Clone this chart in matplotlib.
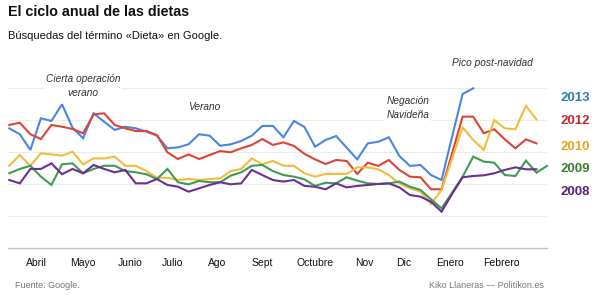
import matplotlib
matplotlib.use("Agg")
import matplotlib.pyplot as plt
import numpy as np

plt.rcParams['font.family'] = ['Liberation Sans', 'DejaVu Sans']

# busquedas semanales de "Dieta" (indice Google Trends), semana 0 = finales de marzo
y2013 = [74.8, 71.1, 61.3, 81.1, 79.4, 89.8, 75.2, 68.6, 84.2, 78.9, 73.8, 75.8, 74.8,
         72.7, 70.2, 62.3, 62.9, 64.8, 71.1, 70.2, 63.9, 64.8, 66.9, 70.2, 76.3, 76.3,
         69.2, 79.4, 75.6, 63.3, 67.5, 70.0, 62.7, 55.4, 65.4, 66.4, 69.2, 57.5, 51.3,
         51.9, 45.6, 42.5, 69.6, 96.3, 99.8]
y2012 = [76.9, 78.3, 71.1, 68.1, 76.9, 75.8, 74.4, 71.7, 83.5, 84.2, 76.9, 74.8, 73.1,
         73.1, 70.6, 59.8, 55.6, 58.5, 55.6, 58.1, 60.6, 59.8, 62.3, 64.4, 68.1, 64.4,
         66.0, 63.8, 58.8, 55.4, 52.5, 55.0, 54.4, 46.3, 53.3, 51.3, 55.0, 48.8, 44.6,
         44.2, 36.7, 36.7, 59.2, 82.1, 82.1, 71.7, 74.2, 67.9, 62.3, 67.9, 65.4]
y2010 = [51.4, 58.1, 51.4, 59.2, 58.5, 57.7, 60.2, 52.3, 56.0, 56.0, 57.1, 51.4, 51.4,
         48.1, 43.9, 43.9, 42.5, 43.1, 42.5, 43.1, 43.5, 48.1, 49.4, 56.0, 52.3, 54.4,
         51.4, 51.4, 46.7, 44.6, 46.3, 46.3, 46.3, 50.4, 50.4, 49.2, 45.6, 40.4, 37.3,
         35.2, 27.5, 36.3, 56.0, 75.4, 67.5, 61.3, 80.0, 74.8, 74.2, 88.8, 80.4]
y2009 = [46.7, 49.4, 51.4, 44.6, 39.4, 52.3, 52.9, 46.7, 49.4, 51.4, 51.4, 48.1, 47.3,
         46.1, 43.1, 49.4, 41.1, 39.8, 41.9, 41.1, 41.1, 45.2, 47.3, 51.4, 51.9, 48.1,
         45.6, 44.6, 42.9, 38.8, 40.8, 40.4, 44.2, 42.1, 40.4, 40.0, 40.4, 41.5, 38.3,
         36.3, 30.4, 24.8, 34.6, 44.6, 57.1, 54.0, 53.3, 45.6, 45.0, 54.6, 47.1, 51.3]
y2008 = [42.5, 40.4, 49.4, 49.4, 52.9, 46.1, 49.4, 46.7, 51.9, 49.4, 47.3, 48.8, 40.4,
         40.4, 43.1, 39.4, 38.3, 35.2, 37.3, 39.4, 41.1, 39.8, 40.4, 48.8, 45.6, 42.5,
         41.5, 42.5, 38.8, 38.3, 36.7, 40.4, 37.9, 38.8, 39.4, 40.0, 40.4, 37.9, 33.1,
         32.1, 28.9, 22.7, 33.8, 44.2, 45.0, 45.4, 46.7, 48.8, 50.4, 49.2, 49.2]

years = ['2013', '2012', '2010', '2009', '2008']
series = [y2013, y2012, y2010, y2009, y2008]
line_colors = ['#4a86e0', '#db4437', '#f2bb3c', '#3f9b52', '#6b2f93']
label_colors = ['#2d7db3', '#c4262e', '#e3a51e', '#3b7d2c', '#5c1f7c']
label_y = [93.8, 79.4, 63.1, 49.4, 35.0]

months = ['Abril', 'Mayo', 'Junio', 'Julio', 'Ago', 'Sept', 'Octubre', 'Nov', 'Dic', 'Enero', 'Febrero']
month_pos = [2.6, 6.95, 11.5, 15.5, 19.7, 24.0, 29.0, 33.7, 37.4, 41.8, 46.7]

fig = plt.figure(figsize=(5.94, 2.96), dpi=100)
ax = fig.add_axes([8/594, 1 - 248/296, 539/594, 168/296])
ax.set_xlim(-0.12, 51)
ax.set_ylim(0, 105)

for g in [20, 40, 60, 80, 100]:
    ax.axhline(g, color='#ebebeb', lw=0.8, zorder=0)

for name, vals, c in zip(years, series, line_colors):
    ax.plot(np.arange(len(vals)), vals, color=c, lw=1.5, zorder=3, clip_on=False,
            solid_joinstyle='miter')

for name, yy, c in zip(years, label_y, label_colors):
    ax.text(52.3, yy, name, color=c, fontsize=9.5, fontweight='bold', va='center', ha='left')

ann = dict(fontsize=7.3, style='italic', color='#333333', ha='center', va='center',
           linespacing=1.5, zorder=1,
           bbox=dict(facecolor='white', edgecolor='none', pad=1.5))
ax.text(7.0, 101, 'Cierta operación\nverano', **ann)
ax.text(18.5, 88.1, 'Verano', **ann)
ax.text(37.8, 87.5, 'Negación\nNavideña', **ann)
ax.text(45.8, 115.6, 'Pico post-navidad', **ann)

for s in ['top', 'right', 'left']:
    ax.spines[s].set_visible(False)
ax.spines['bottom'].set_color('#c4c4c4')
ax.spines['bottom'].set_linewidth(1.0)
ax.set_yticks([])
ax.set_xticks(month_pos)
ax.set_xticklabels(months, fontsize=7.5, color='#111111')
ax.tick_params(axis='x', length=0, pad=7)

fig.text(8/594, 1 - 12/296, 'El ciclo anual de las dietas', fontsize=10.3,
         fontweight='bold', va='center', ha='left', color='#111111')
fig.text(8/594, 1 - 36/296, 'Búsquedas del término «Dieta» en Google.', fontsize=8,
         va='center', ha='left', color='#111111')
fig.text(15/594, 1 - 286/296, 'Fuente: Google.', fontsize=6.5, color='#777777',
         va='center', ha='left')
fig.text(544/594, 1 - 286/296, 'Kiko Llaneras — Politikon.es', fontsize=6.5,
         color='#777777', va='center', ha='right')

fig.savefig('out.png', dpi=100, facecolor='white')
